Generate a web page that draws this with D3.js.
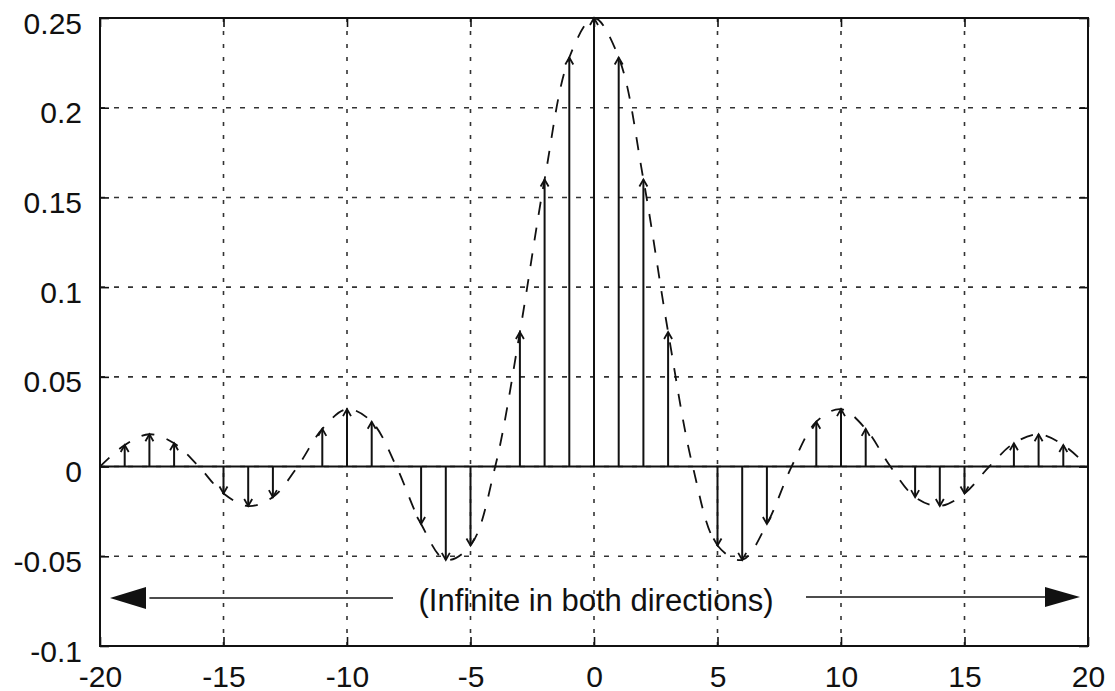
<!DOCTYPE html>
<html><head><meta charset="utf-8">
<script src="https://cdn.jsdelivr.net/npm/d3@7"></script>
<style>
html,body{margin:0;padding:0;background:#fff;}
svg{display:block;font-family:"Liberation Sans",Arial,Helvetica,sans-serif;}
</style></head>
<body>
<script>
const nValues = d3.range(-20, 21);
const hValues = [
  0, 0.012, 0.018, 0.013, 0, -0.015, -0.022, -0.017, 0, 0.021, 0.032, 0.025, 0,
  -0.032, -0.052, -0.044, 0, 0.075, 0.16, 0.228, 0.25, 0.228, 0.16, 0.075, 0,
  -0.044, -0.052, -0.032, 0, 0.025, 0.032, 0.021, 0, -0.017, -0.022, -0.015, 0,
  0.013, 0.018, 0.012, 0
];
const xTicks = [-20, -15, -10, -5, 0, 5, 10, 15, 20];
const yTicks = [-0.1, -0.05, 0, 0.05, 0.1, 0.15, 0.2, 0.25];
const yTickLabels = ["-0.1", "-0.05", "0", "0.05", "0.1", "0.15", "0.2", "0.25"];
const annotation = "(Infinite in both directions)";

const W = 1115, H = 691;
const L = 100, R = 1088, T = 18, B = 646;
const svg = d3.select("body").append("svg").attr("width", W).attr("height", H);
const x = d3.scaleLinear().domain([-20, 20]).range([L, R]);
const y = d3.scaleLinear().domain([-0.1, 0.25]).range([B, T]);
const ink = "#111";

// grid
const g = svg.append("g");
g.selectAll(".gx").data(xTicks.slice(1, -1)).join("line")
  .attr("x1", d => x(d)).attr("x2", d => x(d)).attr("y1", T).attr("y2", B)
  .attr("stroke", "#333").attr("stroke-width", 1.6).attr("stroke-dasharray", "4,9");
g.selectAll(".gy").data(yTicks.slice(1, -1)).join("line")
  .attr("y1", d => y(d)).attr("y2", d => y(d)).attr("x1", L).attr("x2", R)
  .attr("stroke", "#333").attr("stroke-width", 1.6).attr("stroke-dasharray", "5,9");

// axes with inward ticks
const tl = 9;
svg.append("g").attr("transform", `translate(0,${B})`)
  .call(d3.axisBottom(x).tickValues(xTicks).tickSize(-tl).tickFormat(d => d))
  .call(a => a.select(".domain").remove())
  .call(a => a.selectAll("text").attr("y", 30).attr("dy", "0.35em").attr("font-size", 30).attr("fill", ink).attr("font-family", "Liberation Sans, Arial, sans-serif"))
  .call(a => a.selectAll("line").attr("stroke", ink).attr("stroke-width", 1.6));
svg.append("g").attr("transform", `translate(0,${T})`)
  .call(d3.axisTop(x).tickValues(xTicks).tickSize(-tl).tickFormat(""))
  .call(a => a.select(".domain").remove())
  .call(a => a.selectAll("line").attr("stroke", ink).attr("stroke-width", 1.6));
svg.append("g").attr("transform", `translate(${L},0)`)
  .call(d3.axisLeft(y).tickValues(yTicks).tickSize(-tl).tickFormat((d, i) => yTickLabels[i]))
  .call(a => a.select(".domain").remove())
  .call(a => a.selectAll("text").attr("x", -18).attr("dy", "0.5em").attr("font-size", 30).attr("fill", ink).attr("font-family", "Liberation Sans, Arial, sans-serif"))
  .call(a => a.selectAll("line").attr("stroke", ink).attr("stroke-width", 1.6));
svg.append("g").attr("transform", `translate(${R},0)`)
  .call(d3.axisRight(y).tickValues(yTicks).tickSize(-tl).tickFormat(""))
  .call(a => a.select(".domain").remove())
  .call(a => a.selectAll("line").attr("stroke", ink).attr("stroke-width", 1.6));

// zero line
svg.append("line").attr("x1", L).attr("x2", R).attr("y1", y(0)).attr("y2", y(0))
  .attr("stroke", ink).attr("stroke-width", 2);

// envelope
const pts = nValues.map((n, i) => [n, hValues[i]]);
svg.append("path").datum(pts)
  .attr("d", d3.line().x(d => x(d[0])).y(d => y(d[1])).curve(d3.curveCatmullRom.alpha(0.5)))
  .attr("fill", "none").attr("stroke", ink).attr("stroke-width", 1.8).attr("stroke-dasharray", "13,13");

// stems
const stems = pts.filter(d => d[1] !== 0);
svg.append("g").selectAll("line").data(stems).join("line")
  .attr("x1", d => x(d[0])).attr("x2", d => x(d[0]))
  .attr("y1", y(0)).attr("y2", d => y(d[1]))
  .attr("stroke", ink).attr("stroke-width", 2);
svg.append("g").selectAll("path").data(stems).join("path")
  .attr("d", d => {
    const px = x(d[0]), py = y(d[1]), s = d[1] > 0 ? 1 : -1;
    return `M${px - 4},${py + s * 7}L${px},${py}L${px + 4},${py + s * 7}`;
  })
  .attr("fill", "none").attr("stroke", ink).attr("stroke-width", 1.8);

// frame
svg.append("rect").attr("x", L).attr("y", T).attr("width", R - L).attr("height", B - T)
  .attr("fill", "none").attr("stroke", ink).attr("stroke-width", 2);

// annotation arrows
const ay = 598;
svg.append("line").attr("x1", x(-18)).attr("x2", 393).attr("y1", ay).attr("y2", ay).attr("stroke", ink).attr("stroke-width", 1.6);
svg.append("path").attr("d", `M110,${ay}L146,${ay - 11}L146,${ay + 11}Z`).attr("fill", ink);
svg.append("line").attr("x1", 806).attr("x2", 1050).attr("y1", ay - 1).attr("y2", ay - 1).attr("stroke", ink).attr("stroke-width", 1.6);
svg.append("path").attr("d", `M1080,${ay - 1}L1045,${ay - 11}L1045,${ay + 9}Z`).attr("fill", ink);
svg.append("text").attr("x", 596).attr("y", 611).attr("text-anchor", "middle")
  .attr("font-size", 31).attr("fill", ink).text(annotation);
</script>
</body></html>
